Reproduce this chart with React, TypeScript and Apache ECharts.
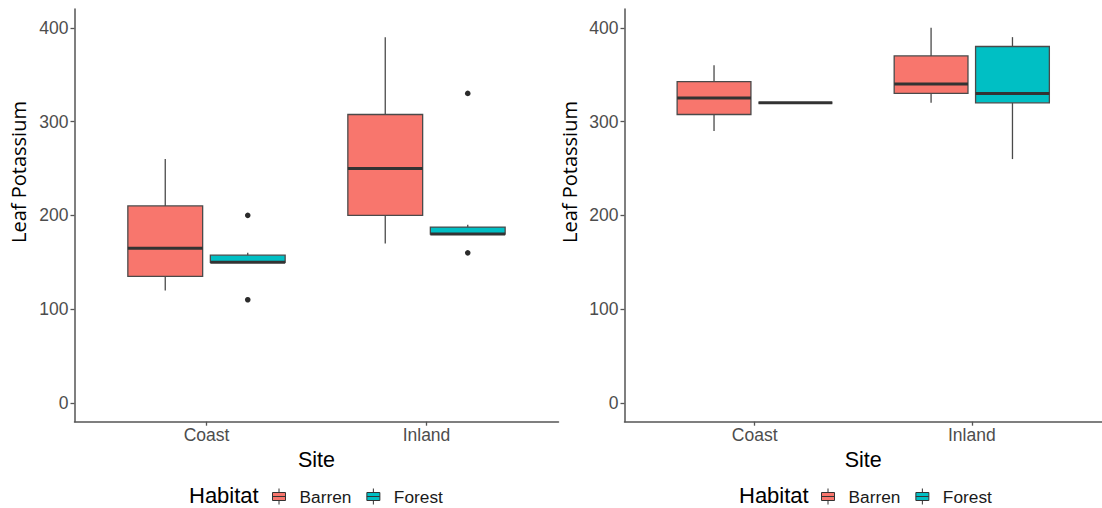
import React, { useEffect, useRef } from 'react';
import * as echarts from 'echarts';

// ---------- data ----------
const sites = ['Coast', 'Inland'];
const habitats = ['Barren', 'Forest'];
const yTicks = [0, 100, 200, 300, 400];

// per site: [lower whisker, Q1, median, Q3, upper whisker]
const leftBarren = [
  [120, 135, 165, 210, 260],
  [170, 200, 250, 307.5, 390],
];
const leftForest = [
  [150, 150, 150, 157.5, 160],
  [180, 180, 180, 187.5, 190],
];
// [site number, value]
const leftForestOutliers = [
  [1, 200],
  [1, 110],
  [2, 330],
  [2, 160],
];

const rightBarren = [
  [290, 307.5, 325, 342.5, 360],
  [320, 330, 340, 370, 400],
];
const rightForest = [
  [320, 320, 320, 320, 320],
  [260, 320, 330, 380, 390],
];

// ---------- styles ----------
const BARREN = '#F8766D';
const FOREST = '#00BFC4';
const LINE = '#4a4a4a';
const DODGE = 0.1875;
const BOX_W = 0.34;
const SANS = '"Liberation Sans", Arial, sans-serif';

const makeBoxRender = (dodge: number, fill: string) => (params: any, api: any) => {
  const x = api.value(0) + dodge;
  const lo = api.coord([x, api.value(1)]);
  const q1 = api.coord([x, api.value(2)]);
  const med = api.coord([x, api.value(3)]);
  const q3 = api.coord([x, api.value(4)]);
  const hi = api.coord([x, api.value(5)]);
  const halfW = api.size([BOX_W, 0])[0] / 2;
  const cx = q1[0];
  return {
    type: 'group',
    children: [
      { type: 'line', shape: { x1: cx, y1: hi[1], x2: cx, y2: q3[1] }, style: { stroke: LINE, lineWidth: 1.3 } },
      { type: 'line', shape: { x1: cx, y1: q1[1], x2: cx, y2: lo[1] }, style: { stroke: LINE, lineWidth: 1.3 } },
      {
        type: 'rect',
        shape: { x: cx - halfW, y: q3[1], width: 2 * halfW, height: q1[1] - q3[1] },
        style: { fill, stroke: LINE, lineWidth: 1.3 },
      },
      {
        type: 'line',
        shape: { x1: cx - halfW, y1: med[1], x2: cx + halfW, y2: med[1] },
        style: { stroke: '#333333', lineWidth: 3 },
      },
    ],
  };
};

const makePointRender = (dodge: number) => (params: any, api: any) => {
  const p = api.coord([api.value(0) + dodge, api.value(1)]);
  return { type: 'circle', shape: { cx: p[0], cy: p[1], r: 2.8 }, style: { fill: '#2b2b2b' } };
};

const boxData = (arr: number[][]) => arr.map((v, i) => [i + 1, ...v]);

const xAxisFor = (gridIndex: number) => ({
  type: 'value',
  gridIndex,
  min: 0.4,
  max: 2.6,
  name: 'Site',
  nameLocation: 'middle',
  nameGap: 11,
  nameTextStyle: { fontSize: 21.5, color: '#000', fontFamily: SANS },
  axisLine: { show: true, onZero: false, lineStyle: { color: '#555', width: 1.5 } },
  axisTick: { show: true, customValues: [1, 2], length: 4, lineStyle: { color: '#555', width: 1.3 } },
  axisLabel: {
    customValues: [1, 2],
    formatter: (v: number) => sites[Math.round(v) - 1],
    fontSize: 17.5,
    color: '#4d4d4d',
    margin: 4,
    fontFamily: SANS,
  },
  splitLine: { show: false },
});

const yAxisFor = (gridIndex: number) => ({
  type: 'value',
  gridIndex,
  min: -20,
  max: 420,
  axisLine: { show: true, onZero: false, lineStyle: { color: '#555', width: 1.5 } },
  axisTick: { show: true, customValues: yTicks, length: 4, lineStyle: { color: '#555', width: 1.3 } },
  axisLabel: { customValues: yTicks, fontSize: 17.5, color: '#4d4d4d', margin: 6, fontFamily: SANS },
  splitLine: { show: false },
});

const legendIcon = 'path://M1,4 L14,4 L14,12 L1,12 Z M1,8 L14,8 M7.5,0 L7.5,4 M7.5,12 L7.5,16';

const legendFor = (left: number) => ({
  data: habitats,
  left,
  top: 488,
  padding: 0,
  itemWidth: 15,
  itemHeight: 16,
  itemGap: 15,
  icon: legendIcon,
  selectedMode: false,
  itemStyle: { borderColor: '#333', borderWidth: 1 },
  textStyle: { fontSize: 17.3, color: '#1a1a1a', fontFamily: SANS, padding: [0, 0, 0, 8] },
});

const yTitle = (x: number) => ({
  type: 'text',
  x,
  y: 172,
  rotation: Math.PI / 2,
  style: {
    text: 'Leaf Potassium',
    fontSize: 20,
    fill: '#000',
    fontFamily: '"Open Sans", sans-serif',
    align: 'center',
    verticalAlign: 'middle',
  },
});

export default function App() {
  const ref = useRef<HTMLDivElement>(null);
  useEffect(() => {
    if (!ref.current) return;
    const chart = echarts.init(ref.current, undefined, { renderer: 'svg' });
    chart.setOption({
      animation: false,
      backgroundColor: '#ffffff',
      grid: [
        { left: 74.5, top: 9, width: 484, height: 412.7 },
        { left: 624.5, top: 9, width: 484, height: 412.7 },
      ],
      xAxis: [xAxisFor(0), xAxisFor(1)],
      yAxis: [yAxisFor(0), yAxisFor(1)],
      legend: [legendFor(272), legendFor(821)],
      graphic: [
        yTitle(18),
        yTitle(569),
        { type: 'text', left: 189, top: 484, style: { text: 'Habitat', fontSize: 22, fill: '#000', fontFamily: SANS } },
        { type: 'text', left: 739, top: 484, style: { text: 'Habitat', fontSize: 22, fill: '#000', fontFamily: SANS } },
      ],
      series: [
        {
          name: 'Barren', type: 'custom', xAxisIndex: 0, yAxisIndex: 0,
          itemStyle: { color: BARREN }, encode: { x: 0, y: [1, 2, 3, 4, 5] },
          renderItem: makeBoxRender(-DODGE, BARREN), data: boxData(leftBarren),
        },
        {
          name: 'Forest', type: 'custom', xAxisIndex: 0, yAxisIndex: 0,
          itemStyle: { color: FOREST }, encode: { x: 0, y: [1, 2, 3, 4, 5] },
          renderItem: makeBoxRender(DODGE, FOREST), data: boxData(leftForest),
        },
        {
          name: 'Forest outliers', type: 'custom', xAxisIndex: 0, yAxisIndex: 0,
          itemStyle: { color: '#2b2b2b' }, encode: { x: 0, y: 1 },
          renderItem: makePointRender(DODGE), data: leftForestOutliers,
        },
        {
          name: 'Barren', type: 'custom', xAxisIndex: 1, yAxisIndex: 1,
          itemStyle: { color: BARREN }, encode: { x: 0, y: [1, 2, 3, 4, 5] },
          renderItem: makeBoxRender(-DODGE, BARREN), data: boxData(rightBarren),
        },
        {
          name: 'Forest', type: 'custom', xAxisIndex: 1, yAxisIndex: 1,
          itemStyle: { color: FOREST }, encode: { x: 0, y: [1, 2, 3, 4, 5] },
          renderItem: makeBoxRender(DODGE, FOREST), data: boxData(rightForest),
        },
      ],
    });
    return () => chart.dispose();
  }, []);
  return (
    <div
      ref={ref}
      style={{ position: 'fixed', left: 0, top: 0, width: 1102, height: 508, background: '#fff' }}
    />
  );
}
